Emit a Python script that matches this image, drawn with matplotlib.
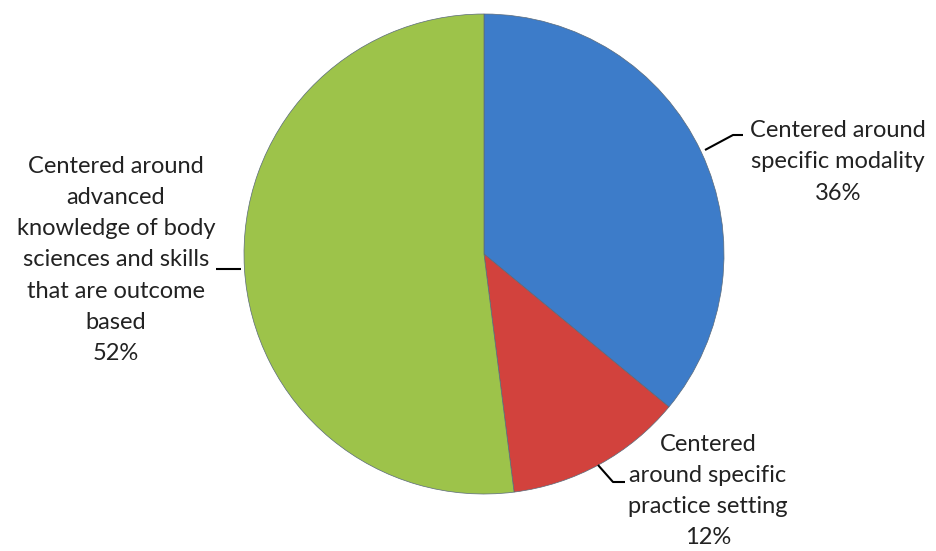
import matplotlib
matplotlib.use('Agg')
import matplotlib.pyplot as plt

labels = ['Centered around\nspecific modality\n36%',
          'Centered\naround specific\npractice setting\n12%',
          'Centered around\nadvanced\nknowledge of body\nsciences and skills\nthat are outcome\nbased\n52%']
values = [36, 12, 52]
colors = ['#3D7CC9', '#D2423D', '#9DC34A']

W, H = 936, 551
fig = plt.figure(figsize=(W / 100, H / 100), dpi=100)
ax = fig.add_axes([0, 0, 1, 1])

# pixel-like coordinates, y measured up from bottom
cx, cy, r = 484, H - 254, 240
wedges, _ = ax.pie(values, colors=colors, startangle=90, counterclock=False,
                   center=(cx, cy), radius=r,
                   wedgeprops=dict(edgecolor='#5a6a7a', linewidth=0.5))
ax.set_xlim(0, W)
ax.set_ylim(0, H)
ax.set_aspect('equal')
ax.axis('off')

# leader lines (pixel coords from top)
leaders = [
    [(705, 150), (733, 135), (743, 135)],
    [(598, 465), (613, 482), (625, 482)],
    [(241, 269), (216, 269)],
]
for pts in leaders:
    xs = [p[0] for p in pts]
    ys = [H - p[1] for p in pts]
    ax.plot(xs, ys, color='black', lw=1.5, solid_capstyle='butt')

text_pos = [(838, 162), (708, 491), (116, 260)]
for lab, (tx, ty) in zip(labels, text_pos):
    ax.text(tx, H - ty, lab, ha='center', va='center', fontsize=17,
            family=['Lato', 'DejaVu Sans'], color='#222222', linespacing=1.6)

fig.savefig('out.png', dpi=100)
